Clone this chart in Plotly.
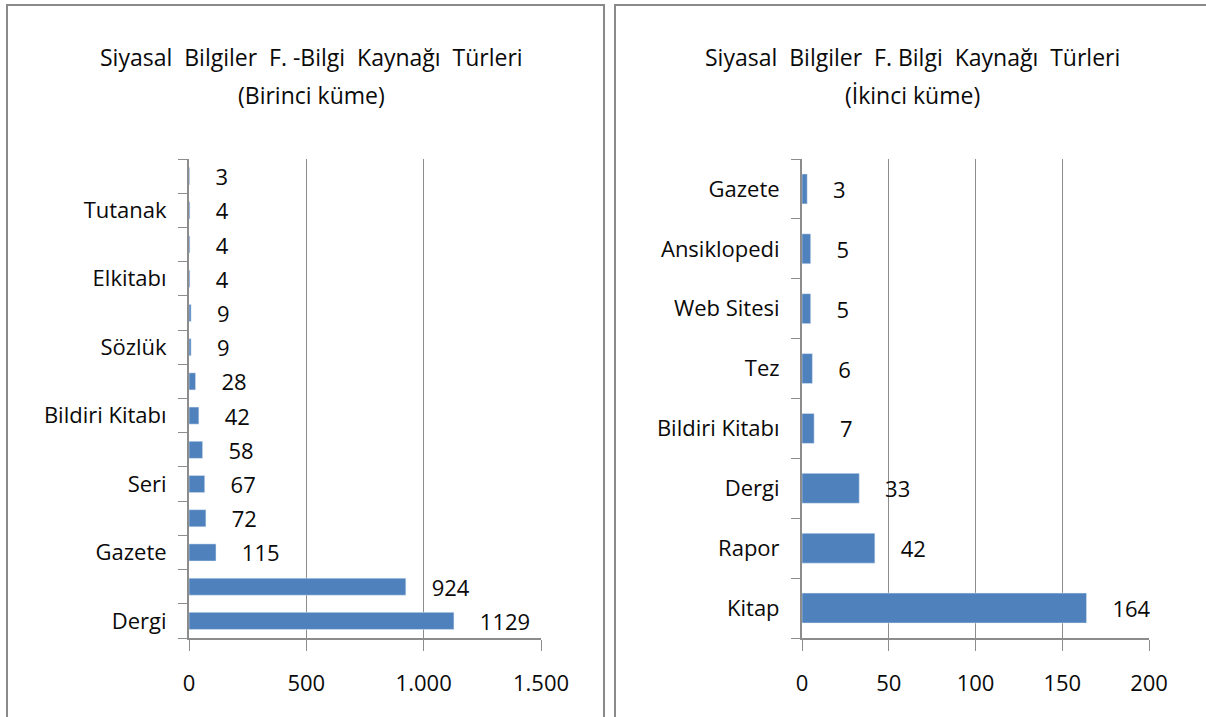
import plotly.graph_objects as go

# Birinci küme (bottom -> top)
cats_1 = ["Dergi", "Kitap", "Gazete", "Rapor", "Seri", "Tez", "Bildiri Kitabı",
          "Ansiklopedi", "Sözlük", "Web Sitesi", "Elkitabı", "Harita", "Tutanak", "Diğer"]
vals_1 = [1129, 924, 115, 72, 67, 58, 42, 28, 9, 9, 4, 4, 4, 3]
shown_1 = ["Dergi", "Gazete", "Seri", "Bildiri Kitabı", "Sözlük", "Elkitabı", "Tutanak"]

# İkinci küme (bottom -> top)
cats_2 = ["Kitap", "Rapor", "Dergi", "Bildiri Kitabı", "Tez", "Web Sitesi", "Ansiklopedi", "Gazete"]
vals_2 = [164, 42, 33, 7, 6, 5, 5, 3]

title_1 = ["Siyasal  Bilgiler  F. -Bilgi  Kaynağı  Türleri", "(Birinci küme)"]
title_2 = ["Siyasal  Bilgiler  F. Bilgi  Kaynağı  Türleri", "(İkinci küme)"]

BAR = "#4F81BD"
GRID = "#8c8c8c"
FONT = "Open Sans"
W, H = 1206, 717

fig = go.Figure()
fig.add_trace(go.Bar(
    x=vals_1, y=cats_1, orientation="h", width=0.5, marker_color=BAR,
    text=[str(v) for v in vals_1], texttemplate="    %{text}", textposition="outside",
    constraintext="none", textfont=dict(size=22, color="#0a0a0a"), cliponaxis=False,
    xaxis="x", yaxis="y", showlegend=False,
))
fig.add_trace(go.Bar(
    x=vals_2, y=cats_2, orientation="h", width=0.5, marker_color=BAR,
    text=[str(v) for v in vals_2], texttemplate="    %{text}", textposition="outside",
    constraintext="none", textfont=dict(size=22, color="#0a0a0a"), cliponaxis=False,
    xaxis="x2", yaxis="y2", showlegend=False,
))

xstyle = dict(showgrid=True, gridcolor=GRID, gridwidth=1, showline=True, linecolor=GRID,
              linewidth=2, ticks="outside", ticklen=11, tickcolor=GRID, zeroline=False,
              tickfont=dict(size=22, color="#0a0a0a"), ticklabelstandoff=14, automargin=False)
ystyle = dict(type="category", showgrid=False, showline=True, linecolor=GRID, linewidth=2,
              ticks="outside", ticklen=9, tickcolor=GRID, tickson="boundaries",
              tickfont=dict(size=22, color="#0a0a0a"), ticklabelstandoff=16, automargin=False)

fig.update_layout(
    width=W, height=H,
    margin=dict(l=0, r=0, t=0, b=0),
    paper_bgcolor="white", plot_bgcolor="white",
    font=dict(family=FONT, color="#0a0a0a"),
    separators=",.",
    xaxis=dict(domain=[189 / W, 541 / W], range=[0, 1500], tickvals=[0, 500, 1000, 1500],
               separatethousands=True, anchor="y", **xstyle),
    yaxis=dict(domain=[1 - 638 / H, 1 - 159 / H], anchor="x",
               tickvals=cats_1, ticktext=[c if c in shown_1 else "" for c in cats_1], **ystyle),
    xaxis2=dict(domain=[802 / W, 1149 / W], range=[0, 200], tickvals=[0, 50, 100, 150, 200],
                anchor="y2", **xstyle),
    yaxis2=dict(domain=[1 - 638 / H, 1 - 159 / H], anchor="x2", **ystyle),
)

# panel borders
for x0, x1 in [(7, 604), (615, 1212)]:
    fig.add_shape(type="rect", xref="paper", yref="paper",
                  x0=x0 / W, x1=x1 / W, y0=-0.02, y1=1 - 5 / H,
                  line=dict(color="#8a8a8a", width=2), fillcolor="rgba(0,0,0,0)")

for lines, cx in [(title_1, 311), (title_2, 912)]:
    for i, line in enumerate(lines):
        fig.add_annotation(text=line, xref="paper", yref="paper", x=cx / W,
                           y=1 - (57 + 38 * i) / H, xanchor="center", yanchor="middle",
                           showarrow=False, font=dict(size=23, color="#0a0a0a", family=FONT))

fig.write_html("out.html", config={"displayModeBar": False},
               post_script="document.body.style.margin='0';")
